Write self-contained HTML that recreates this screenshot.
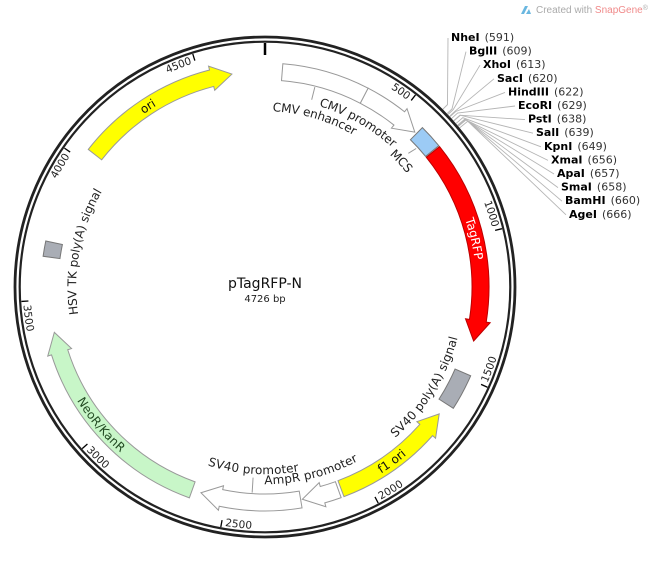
<!DOCTYPE html>
<html><head><meta charset="utf-8"><style>
html,body{margin:0;padding:0;background:#fff;}
svg{display:block;font-family:"DejaVu Sans","Liberation Sans",sans-serif;}
</style></head><body>
<svg id="s" width="660" height="564" viewBox="0 0 660 564" xmlns="http://www.w3.org/2000/svg">
<defs id="d"></defs>
<g id="g"></g>
<text x="265" y="288" text-anchor="middle" font-size="14" fill="#111">pTagRFP-N</text>
<text x="265" y="302" text-anchor="middle" font-size="10" fill="#222">4726 bp</text>
<path d="M521 14 L525 6 L528 6 L524 14 Z M526 14 L529 9 L531 14 Z" fill="#6ab7e0"/>
<text x="536" y="13" font-size="10" fill="#aaa" font-family="Liberation Sans, sans-serif">Created with <tspan fill="#f08a8a">SnapGene</tspan><tspan font-size="7" dy="-3">®</tspan></text>
</svg>
<script>
var NS="http://www.w3.org/2000/svg",cx=265,cy=287,L=4726,g=document.getElementById('g'),d=document.getElementById('d'),uid=0;
function ang(p){return p*360/L;}
function pt(r,a){var t=a*Math.PI/180;return (cx+r*Math.sin(t)).toFixed(2)+' '+(cy-r*Math.cos(t)).toFixed(2);}
function el(n,at,txt){var e=document.createElementNS(NS,n);for(var k in at)e.setAttribute(k,at[k]);if(txt!=null)e.textContent=txt;return e;}
function add(n,at,txt){var e=el(n,at,txt);g.appendChild(e);return e;}
var ri=207,ro=224,rm=215.5,H=5.5;
function arc(r,a1,a2,sw){return 'A'+r+' '+r+' 0 '+(Math.abs(a2-a1)>180?1:0)+' '+sw+' '+pt(r,a2);}
function arrow(p1,p2,dir,fill,stroke){var a1=ang(p1),a2=ang(p2),s;
 if(dir>0){s='M'+pt(ro,a1)+arc(ro,a1,a2-H,1)+'L'+pt(ro+4,a2-H)+'L'+pt(rm,a2)+'L'+pt(ri-4,a2-H)+'L'+pt(ri,a2-H)+arc(ri,a2-H,a1,0)+'Z';}
 else{s='M'+pt(rm,a1)+'L'+pt(ro+4,a1+H)+'L'+pt(ro,a1+H)+arc(ro,a1+H,a2,1)+'L'+pt(ri,a2)+arc(ri,a2,a1+H,0)+'L'+pt(ri-4,a1+H)+'Z';}
 add('path',{d:s,fill:fill,stroke:stroke,'stroke-width':1});}
function box(p1,p2,fill,stroke){var a1=ang(p1),a2=ang(p2);add('path',{d:'M'+pt(ro,a1)+arc(ro,a1,a2,1)+'L'+pt(ri,a2)+arc(ri,a2,a1,0)+'Z',fill:fill,stroke:stroke,'stroke-width':1});}
function atext(t,r,a,size,fill,mode){
 var id='p'+(uid++),ccw=(a>90&&a<270),p,anchor='middle',off='50%';
 if(mode=='tick'){ if(ccw){p='M'+pt(r,a-0.9)+arc(r,a-0.9,a-60,0);anchor='start';off='0%';}
   else{p='M'+pt(r,a-60)+arc(r,a-60,a-0.9,1);anchor='end';off='100%';}}
 else{ if(ccw)p='M'+pt(r,a+60)+arc(r,a+60,a-60,0); else p='M'+pt(r,a-60)+arc(r,a-60,a+60,1);}
 d.appendChild(el('path',{id:id,d:p}));
 var tx=add('text',{'font-size':size,fill:fill,dy:'0.35em'});
 var tp=el('textPath',{href:'#'+id,startOffset:off,'text-anchor':anchor},t);tp.setAttributeNS('http://www.w3.org/1999/xlink','xlink:href','#'+id);tx.appendChild(tp);}
function line(r1,r2,a,c,w){add('path',{d:'M'+pt(r1,a)+'L'+pt(r2,a),stroke:c,'stroke-width':w,fill:'none'});}
add('circle',{cx:cx,cy:cy,r:250,fill:'none',stroke:'#222','stroke-width':2.8});
add('circle',{cx:cx,cy:cy,r:245.3,fill:'none',stroke:'#222','stroke-width':2.2});
line(244,232,0,'#000',2.5);
for(var k=500;k<L;k+=500){var a=ang(k);line(244,237,a,'#000',1.3);atext(String(k),238.5,a,10.5,'#222','tick');}
var sites=[['NheI','591'],['BglII','609'],['XhoI','613'],['SacI','620'],['HindIII','622'],['EcoRI','629'],['PstI','638'],['SalI','639'],['KpnI','649'],['XmaI','656'],['ApaI','657'],['SmaI','658'],['BamHI','660'],['AgeI','666']];
var lx=[451,469,483,497,508,518,528,536,544,551,557,561,565,569];
for(var i=0;i<sites.length;i++){var a=ang(+sites[i][1]),y=41+13.6*i;
 var kn=pt(258+i*0.3,a);
 add('path',{d:'M'+pt(251.5,a)+'L'+kn+'L'+(lx[i]-3)+' '+(y-3),stroke:'#b5b5b5','stroke-width':0.9,fill:'none'});
 var t=add('text',{x:lx[i],y:y,'font-size':11,fill:'#000'});
 t.appendChild(el('tspan',{'font-weight':'bold'},sites[i][0]));
 t.appendChild(el('tspan',{fill:'#333','font-weight':'normal',dx:5},'('+sites[i][1]+')'));}
box(60,360,'#fff','#999');
arrow(360,578,1,'#fff','#999');
box(586,668,'#9ccbf5','#777');
arrow(672,1372,1,'#ff0000','#b00');
box(1488,1612,'#a9adb5','#777');
arrow(1655,2092,-1,'#ffff00','#999');
arrow(2102,2232,1,'#fff','#999');
arrow(2238,2590,1,'#fff','#999');
arrow(2622,3385,1,'#c8f6c8','#999');
box(3648,3700,'#a9adb5','#777');
arrow(4042,4610,1,'#ffff00','#999');
atext('ori',rm,327,12,'#111','mid');
atext('TagRFP',rm,77,12,'#fff','mid');
atext('f1 ori',rm,144,12,'#111','mid');
atext('NeoR/KanR',rm,230,12,'#224a22','mid');
line(206,193,14,'#999',1);
atext('CMV enhancer',180,16.4,12,'#222','mid');
atext('CMV promoter',193,29.5,12,'#222','mid');
add('path',{d:'M'+pt(205,47.5)+'L'+pt(196,47),stroke:'#999','stroke-width':1,fill:'none'});
atext('MCS',186,47.3,12,'#222','mid');
atext('SV40 poly(A) signal',195,122,12,'#222','mid');
atext('HSV TK poly(A) signal',193,281,12,'#222','mid');
line(206,191,ang(2410),'#999',1);
atext('SV40 promoter',183,183.7,12,'#222','mid');
atext('AmpR promoter',193,166,12,'#222','mid');
</script>
</body></html>
